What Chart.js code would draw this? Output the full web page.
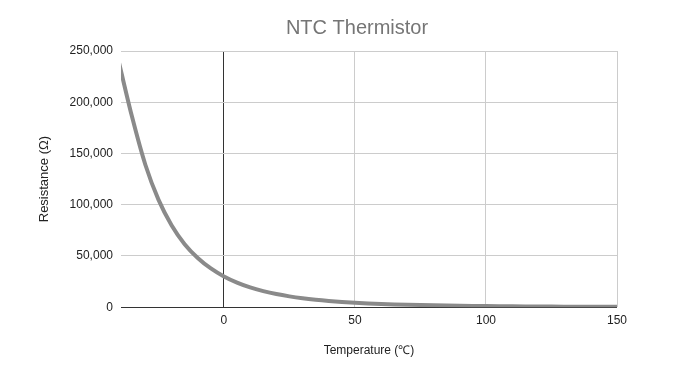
<!DOCTYPE html>
<html>
<head>
<meta charset="utf-8">
<script src="https://cdn.jsdelivr.net/npm/chart.js@4"></script>
<style>
html,body{margin:0;padding:0;background:#fff;}
#wrap{width:698px;height:381px;position:relative;}
</style>
</head>
<body>
<div id="wrap"><canvas id="c" width="698" height="381"></canvas></div>
<script>
const temperatures = [-40,-35,-30,-25,-20,-15,-10,-5,0,5,10,15,20,25,30,35,40,45,50,55,60,65,70,75,80,85,90,95,100,105,110,115,120,125,130,135,140,145,150];
const resistances = [238000,185000,139000,105000,80000,61500,48000,37800,30000,24000,19300,15700,12800,10560,8750,7300,6120,5160,4370,3730,3190,2740,2370,2050,1790,1560,1370,1210,1070,947,841,750,671,602,542,489,442,401,364];
const xTicks = [0,50,100,150];
const yTicks = [0,50000,100000,150000,200000,250000];
const xMin = -39.3, xMax = 150;
const chartTitle = 'NTC Thermistor';
const xTitle = 'Temperature (\u2103)';
const yTitle = 'Resistance (\u03A9)';

const points = temperatures.map((t,i)=>({x:t,y:resistances[i]}));
const FONT = "'Liberation Sans', Arial, sans-serif";

const titlePlugin = {
  id: 'pageTitle',
  afterDraw(chart) {
    const ctx = chart.ctx;
    ctx.save();
    ctx.font = "20px " + FONT;
    ctx.fillStyle = '#757575';
    ctx.textAlign = 'center';
    ctx.textBaseline = 'middle';
    ctx.fillText(chartTitle, 357, 28);
    ctx.restore();
  }
};

new Chart(document.getElementById('c'), {
  type: 'line',
  data: { datasets: [{
    data: points,
    borderColor: '#8a8a8a',
    borderWidth: 4,
    pointRadius: 0,
    cubicInterpolationMode: 'monotone',
    fill: false
  }]},
  plugins: [titlePlugin],
  options: {
    responsive: false,
    animation: false,
    devicePixelRatio: 1,
    layout: { padding: { left: 37, right: 81, top: 51, bottom: 23 } },
    plugins: {
      legend: { display: false },
      tooltip: { enabled: false },
      title: { display: false }
    },
    scales: {
      x: {
        type: 'linear', min: xMin, max: xMax,
        afterBuildTicks: s => { s.ticks = xTicks.map(v=>({value:v})); },
        border: { display: false },
        grid: { color: c => (c.tick && c.tick.value === 0) ? '#333333' : '#cccccc', lineWidth: 1, drawTicks: false },
        ticks: { color: '#222', padding: 6, font: { family: FONT, size: 12 } },
        title: { display: true, text: xTitle, color: '#222', font: { family: FONT, size: 12 }, padding: { top: 10, bottom: 0 } }
      },
      y: {
        min: 0, max: 250000,
        afterBuildTicks: s => { s.ticks = yTicks.map(v=>({value:v})); },
        border: { display: false },
        grid: { color: c => (c.tick && c.tick.value === 0) ? '#333333' : '#cccccc', lineWidth: 1, drawTicks: false },
        ticks: { color: '#222', padding: 8, font: { family: FONT, size: 12 },
          callback: v => Number(v).toLocaleString('en-US') },
        title: { display: true, text: yTitle, color: '#222', font: { family: FONT, size: 13 }, padding: { top: 0, bottom: 9 } }
      }
    }
  }
});
</script>
</body>
</html>
